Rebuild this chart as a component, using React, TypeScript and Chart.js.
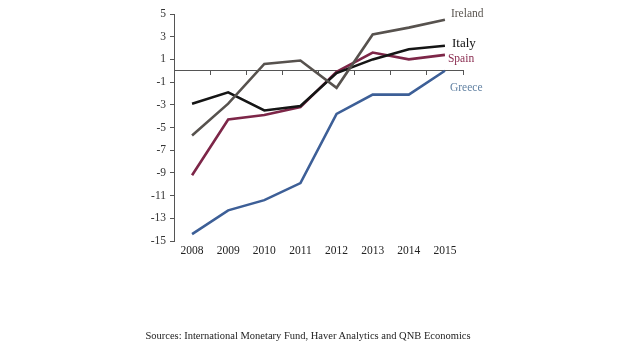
import React, { useEffect, useRef } from "react";
import { Chart, registerables } from "chart.js";

Chart.register(...registerables);

const years = ["2008", "2009", "2010", "2011", "2012", "2013", "2014", "2015"];
const ireland = [-5.7, -2.9, 0.6, 0.9, -1.5, 3.2, 3.8, 4.5];
const italy = [-2.9, -1.9, -3.5, -3.1, -0.2, 1.0, 1.9, 2.2];
const spain = [-9.2, -4.3, -3.9, -3.2, -0.1, 1.6, 1.0, 1.4];
const greece = [-14.4, -12.3, -11.4, -9.9, -3.8, -2.1, -2.1, 0.0];
const yTicks = [5, 3, 1, -1, -3, -5, -7, -9, -11, -13, -15];
const sourceText = "Sources: International Monetary Fund, Haver Analytics and QNB Economics";

const seriesNames = ["Ireland", "Italy", "Spain", "Greece"];
const seriesColors = ["#57524e", "#151515", "#7d2648", "#3d5f97"];
const labelColors = ["#5a5550", "#111111", "#8a2c50", "#6282a3"];
const labelOffsets = [
  [6, -6],
  [7, -2],
  [3, 4],
  [5, 17],
];

const FONT = "'Liberation Serif', 'Times New Roman', serif";

const endLabels = {
  id: "endLabels",
  afterDatasetsDraw(chart: any) {
    const ctx = chart.ctx;
    ctx.save();
    chart.data.datasets.forEach((ds: any, i: number) => {
      const meta = chart.getDatasetMeta(i);
      const pt = meta.data[meta.data.length - 1];
      if (!pt) return;
      ctx.font = i === 1 ? `13px ${FONT}` : `11.5px ${FONT}`;
      ctx.fillStyle = labelColors[i];
      ctx.textAlign = "left";
      ctx.textBaseline = "middle";
      ctx.fillText(seriesNames[i], pt.x + labelOffsets[i][0], pt.y + labelOffsets[i][1]);
    });
    ctx.restore();
  },
};

export default function App() {
  const ref = useRef<HTMLCanvasElement | null>(null);

  useEffect(() => {
    if (!ref.current) return;
    const datasets = [ireland, italy, spain, greece].map((d, i) => ({
      label: seriesNames[i],
      data: d,
      borderColor: seriesColors[i],
      backgroundColor: seriesColors[i],
      borderWidth: 2.6,
      pointRadius: 0,
      tension: 0,
      xAxisID: "x",
      yAxisID: "y",
    }));
    const chart = new Chart(ref.current, {
      type: "line",
      data: { labels: years, datasets },
      plugins: [endLabels],
      options: {
        animation: false,
        responsive: false,
        maintainAspectRatio: false,
        layout: { padding: { left: 140, right: 157, top: 14, bottom: 94 } },
        plugins: { legend: { display: false }, tooltip: { enabled: false }, title: { display: false } },
        scales: {
          x: {
            type: "category",
            position: { y: 0 } as any,
            offset: true,
            ticks: { display: false },
            grid: {
              drawOnChartArea: false,
              drawTicks: true,
              tickLength: 4,
              offset: true,
              color: "#555",
              lineWidth: 1,
            },
            border: { display: true, color: "#555", width: 1 },
          },
          x2: {
            type: "category",
            labels: years,
            position: "bottom",
            offset: true,
            grid: { display: false, drawTicks: false },
            border: { display: false },
            ticks: { color: "#222", font: { family: FONT, size: 11.5 }, padding: 3, maxRotation: 0, autoSkip: false },
            afterFit: (s: any) => {
              s.height = 20;
            },
          },
          y: {
            type: "linear",
            min: -15,
            max: 5,
            afterBuildTicks: (s: any) => {
              s.ticks = yTicks.map((v) => ({ value: v }));
            },
            ticks: { color: "#333", font: { family: FONT, size: 11.5 }, padding: 4 },
            grid: { drawOnChartArea: false, drawTicks: true, tickLength: 4, color: "#555" },
            border: { display: true, color: "#555", width: 1 },
            afterFit: (s: any) => {
              s.width = 34;
            },
          },
        },
      },
    });
    return () => chart.destroy();
  }, []);

  return (
    <div style={{ position: "fixed", left: 0, top: 0, width: 620, height: 355, background: "#fff" }}>
      <canvas ref={ref} width={620} height={355} style={{ display: "block" }} />
      <div
        style={{
          position: "absolute",
          left: 0,
          width: 616,
          top: 330,
          textAlign: "center",
          fontFamily: FONT,
          fontSize: 10.5,
          color: "#222",
        }}
      >
        {sourceText}
      </div>
    </div>
  );
}
